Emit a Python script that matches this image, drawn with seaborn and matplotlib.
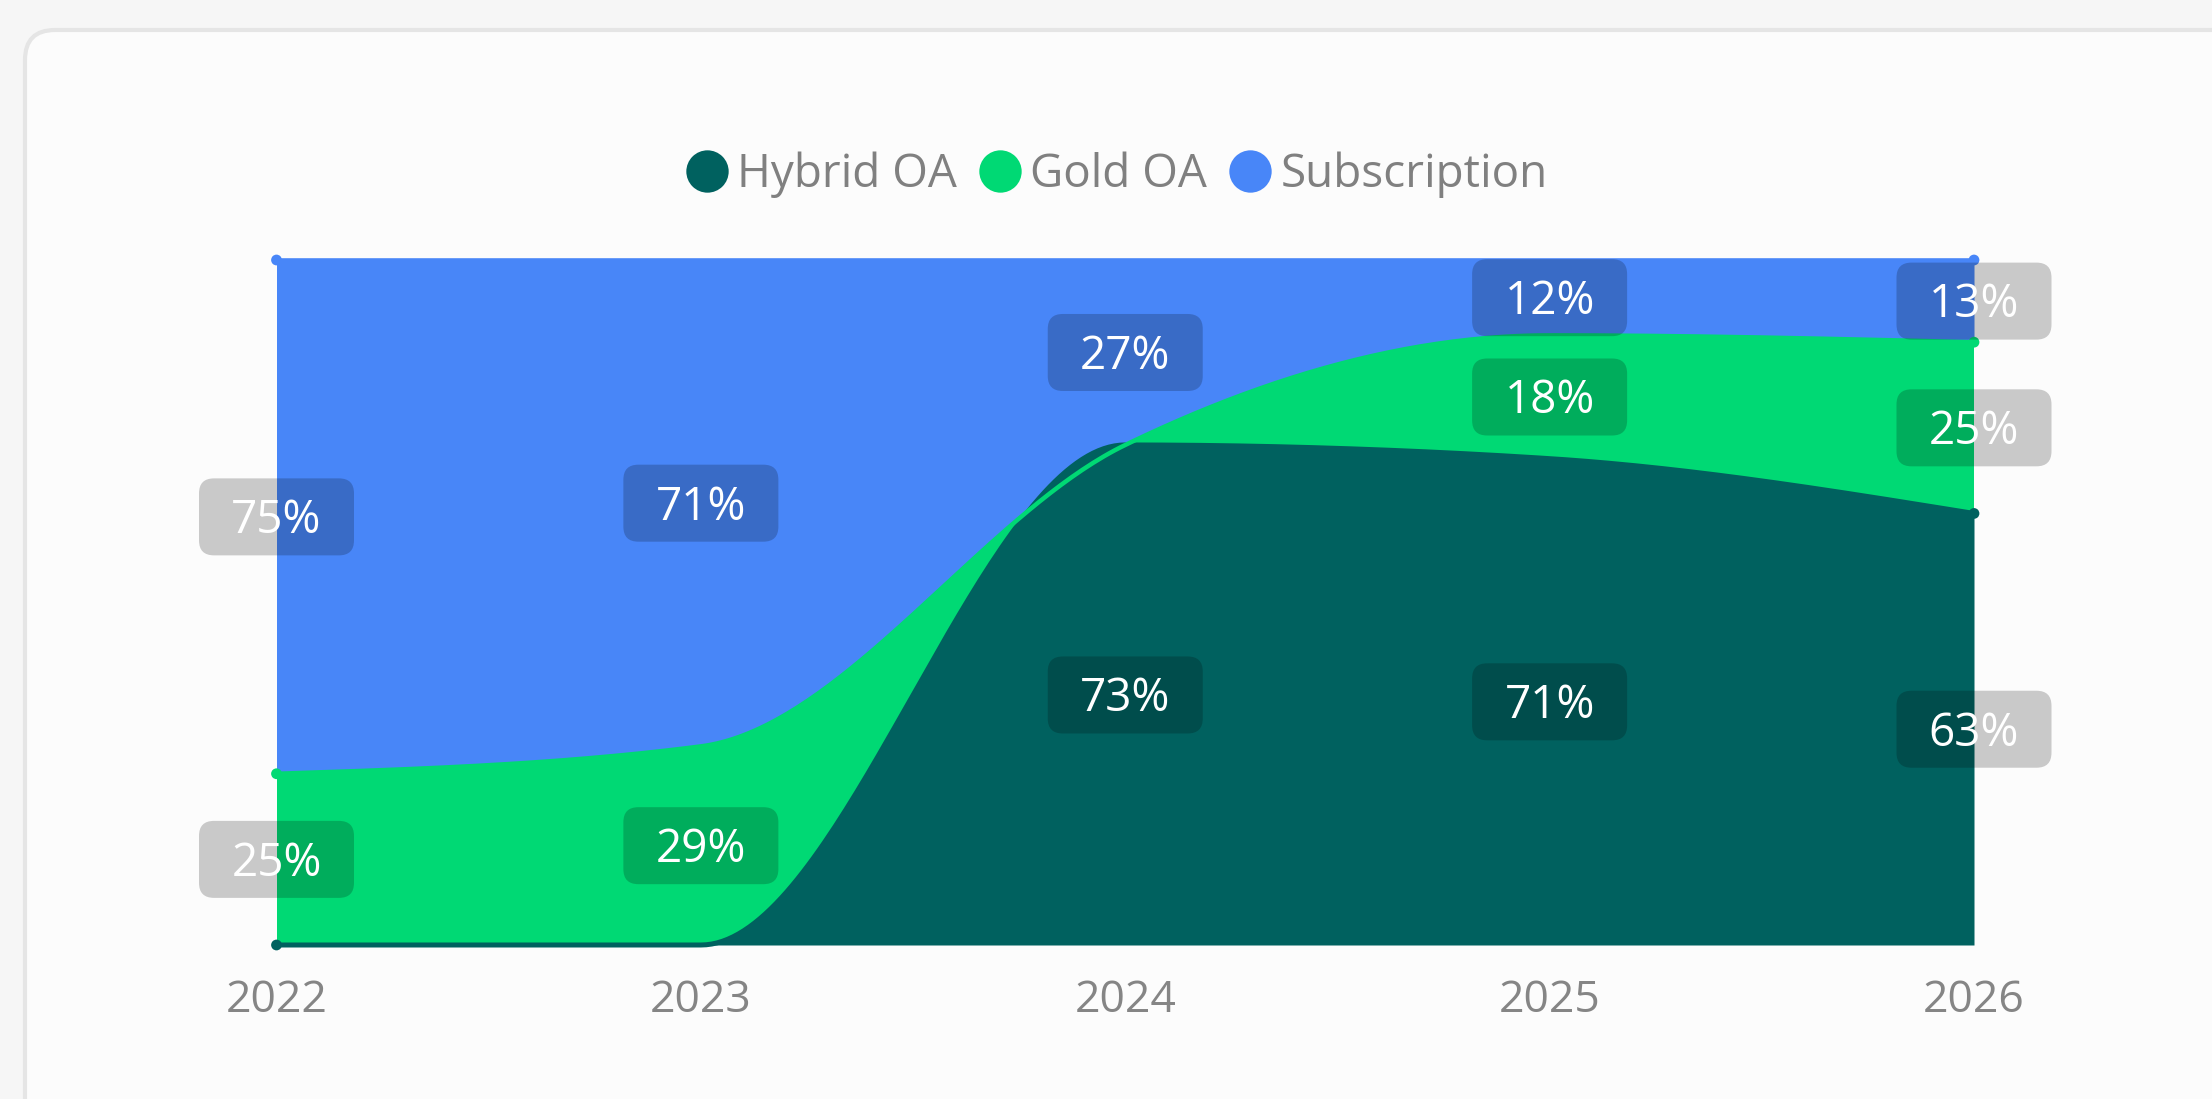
import numpy as np
import pandas as pd
import matplotlib
matplotlib.use("Agg")
import matplotlib.pyplot as plt
import matplotlib.transforms as mtransforms
from matplotlib.patches import FancyBboxPatch
from matplotlib.lines import Line2D
import seaborn as sns

# chart data (percent share per year, 100% stacked)
years = [2022, 2023, 2024, 2025, 2026]
hybrid_oa = [0, 0, 73, 71, 63]
gold_oa = [25, 29, 0, 18, 25]
subscription = [75, 71, 27, 12, 13]
series_names = ["Hybrid OA", "Gold OA", "Subscription"]
series_colors = ["#00615f", "#00d974", "#4886f8"]

sns.set_style("white")
plt.rcParams["font.family"] = ["Open Sans", "DejaVu Sans"]

W, H = 2212, 1099
fig = plt.figure(figsize=(W / 100, H / 100), dpi=100)
fig.patch.set_facecolor("#f6f6f6")

# card behind the chart
card = FancyBboxPatch((25, -100), 2400, H - 30 + 100,
                      boxstyle="round,pad=0,rounding_size=30",
                      transform=mtransforms.IdentityTransform(),
                      facecolor="#fcfcfc", edgecolor="#e5e5e5", linewidth=3, zorder=-1)
fig.add_artist(card)

left, right, top, bottom = 276.5, 1974, 260, 945
ax = fig.add_axes([left / W, (H - bottom) / H, (right - left) / W, (bottom - top) / H])
ax.patch.set_visible(False)


def monotone(x, y, n=80):
    # monotone cubic curve through the points (same idea as d3 curveMonotoneX)
    x = np.asarray(x, float)
    y = np.asarray(y, float)
    h = np.diff(x)
    s = np.diff(y) / h
    m = np.zeros(len(x))
    for i in range(1, len(x) - 1):
        p = (s[i - 1] * h[i] + s[i] * h[i - 1]) / (h[i - 1] + h[i])
        sg = (1 if s[i - 1] >= 0 else -1) + (1 if s[i] >= 0 else -1)
        m[i] = sg * min(abs(s[i - 1]), abs(s[i]), 0.5 * abs(p))
    m[0] = (3 * s[0] - m[1]) / 2
    m[-1] = (3 * s[-1] - m[-2]) / 2
    xs, ys = [], []
    t = np.linspace(0, 1, n)
    h00 = 2 * t**3 - 3 * t**2 + 1
    h10 = t**3 - 2 * t**2 + t
    h01 = -2 * t**3 + 3 * t**2
    h11 = t**3 - t**2
    for i in range(len(x) - 1):
        xs.append(x[i] + t * h[i])
        ys.append(h00 * y[i] + h10 * h[i] * m[i] + h01 * y[i + 1] + h11 * h[i] * m[i + 1])
    return np.concatenate(xs), np.concatenate(ys)


# stack boundaries; the chart is normalised so the top is always 100%
c1 = np.array(hybrid_oa, float)
c2 = c1 + np.array(gold_oa, float)
c3 = np.full(len(years), 100.0)

xx, y1 = monotone(years, c1)
_, y2 = monotone(years, c2)
_, y3 = monotone(years, c3)

ax.fill_between(xx, 0, y1, color=series_colors[0], lw=0, zorder=1)
ax.fill_between(xx, y1, y2, where=y2 >= y1, interpolate=True, color=series_colors[1], lw=0, zorder=2)
ax.fill_between(xx, np.maximum(y1, y2), y3, color=series_colors[2], lw=0, zorder=3)

lines = pd.DataFrame({"x": np.concatenate([xx, xx, xx]),
                      "y": np.concatenate([y1, y2, y3]),
                      "series": np.repeat(series_names, len(xx))})
for name, col, lw in zip(series_names, series_colors, [3.6, 3.2, 2.6]):
    sns.lineplot(data=lines[lines.series == name], x="x", y="y", color=col, lw=lw,
                 sort=False, estimator=None, ax=ax, zorder=4, clip_on=False,
                 solid_capstyle="round")
ends = pd.DataFrame({"x": [years[0], years[-1]] * 3,
                     "y": [c1[0], c1[-1], c2[0], c2[-1], c3[0], c3[-1]],
                     "series": np.repeat(series_names, 2)})
sns.scatterplot(data=ends, x="x", y="y", hue="series", palette=series_colors,
                s=60, linewidth=0, legend=False, ax=ax, zorder=5, clip_on=False)

# value labels in the middle of each band
bases = [np.zeros(len(years)), c1, c2]
tops = [c1, c2, c3]
for vals, base, tp in zip([hybrid_oa, gold_oa, subscription], bases, tops):
    for yr, v, b, t in zip(years, vals, base, tp):
        if v == 0:
            continue
        yc = (b + t) / 2
        trans = fig.dpi_scale_trans + mtransforms.ScaledTranslation(yr, yc, ax.transData)
        box = FancyBboxPatch((-0.775, -0.385), 1.55, 0.77,
                             boxstyle="round,pad=0,rounding_size=0.15",
                             transform=trans, facecolor=(0, 0, 0, 0.2),
                             edgecolor="none", zorder=6, clip_on=False)
        ax.add_artist(box)
        ax.annotate(f"{v}%", xy=(yr, yc), xytext=(0, -11.8), textcoords="offset points",
                    ha="center", va="baseline", color="white", fontsize=33,
                    zorder=7, annotation_clip=False)

ax.set_xlim(years[0], years[-1])
ax.set_ylim(0, 100)
ax.set_xticks(years)
ax.set_xticklabels([str(y) for y in years])
ax.set_yticks([])
ax.set_xlabel("")
ax.set_ylabel("")
ax.tick_params(axis="x", length=0, pad=24, labelsize=32, labelcolor="#858585")
sns.despine(ax=ax, left=True, bottom=True)

handles = [Line2D([], [], marker="o", ls="", ms=30.5, color=c, markeredgewidth=0)
           for c in series_colors]
fig.legend(handles, series_names, loc="center", bbox_to_anchor=(1117 / W, 1 - 175 / H),
           ncol=3, frameon=False, fontsize=33, labelcolor="#808080",
           handlelength=0.9, handletextpad=0.2, columnspacing=0.5, borderpad=0)

fig.savefig("out.png", dpi=100, facecolor=fig.get_facecolor())
